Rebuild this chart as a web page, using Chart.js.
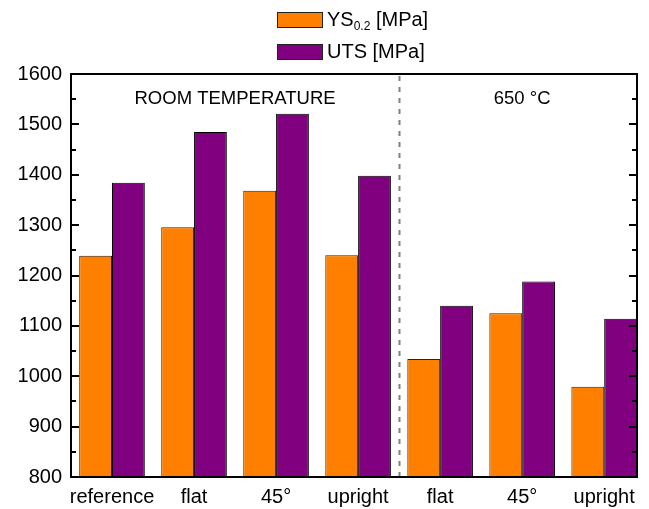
<!DOCTYPE html>
<html>
<head>
<meta charset="utf-8">
<script src="https://cdn.jsdelivr.net/npm/chart.js@4"></script>
<style>
  html, body { margin: 0; padding: 0; background: #fff; }
  #wrap { position: relative; width: 649px; height: 509px; }
  #legend { position: absolute; left: 277px; top: 12px; font-family: 'Liberation Sans', Arial, sans-serif; font-size: 20px; color: #000; }
  .row { position: absolute; left: 0; height: 16px; white-space: nowrap; }
  .box { position: absolute; left: 0; top: 0; width: 44px; height: 14px; border: 1px solid #222; }
  .lbl { position: absolute; left: 50px; top: -4px; line-height: 22px; }
  .lbl sub { font-size: 12px; vertical-align: -4px; line-height: 0; }
</style>
</head>
<body>
<div id="wrap">
  <canvas id="c"></canvas>
  <div id="legend">
    <div class="row" style="top:0"><div class="box" style="background:#FF8000"></div><div class="lbl">YS<sub>0.2</sub> [MPa]</div></div>
    <div class="row" style="top:32px"><div class="box" style="background:#800080"></div><div class="lbl">UTS [MPa]</div></div>
  </div>
</div>
<script>
const categories = ['reference', 'flat', '45°', 'upright', 'flat', '45°', 'upright'];
const ysValues  = [1239, 1296, 1368, 1240, 1034, 1125, 979];
const utsValues = [1384, 1485, 1521, 1398, 1140, 1188, 1114];
const seriesNames = ['YS0.2 [MPa]', 'UTS [MPa]'];
const yTickValues = [800, 900, 1000, 1100, 1200, 1300, 1400, 1500, 1600];
const regionLabels = ['ROOM TEMPERATURE', '650 °C'];
const regionCenters = [1.5, 5];
const regionDivider = 3.5;

const FONT = "'Liberation Sans', Arial, sans-serif";

const decor = {
  id: 'decor',
  afterDatasetsDraw(chart) {
    const {ctx, chartArea: a, scales: {x, y}} = chart;
    ctx.save();
    ctx.strokeStyle = '#808080';
    ctx.lineWidth = 2;
    ctx.setLineDash([5, 6]);
    const dx = Math.round(x.getPixelForValue(regionDivider)) + 0.5;
    ctx.beginPath(); ctx.moveTo(dx, a.top + 2); ctx.lineTo(dx, a.bottom); ctx.stroke();
    ctx.setLineDash([]);
    ctx.strokeStyle = '#000';
    ctx.lineWidth = 2;
    for (let v = 800; v <= 1600; v += 50) {
      const py = Math.round(y.getPixelForValue(v));
      const len = (v % 100 === 0) ? 8 : 5;
      ctx.beginPath();
      ctx.moveTo(a.left, py); ctx.lineTo(a.left + len, py);
      ctx.moveTo(a.right, py); ctx.lineTo(a.right - len, py);
      ctx.stroke();
    }
    ctx.lineWidth = 2;
    ctx.strokeRect(a.left, a.top, a.right - a.left, a.bottom - a.top);
    ctx.fillStyle = '#000';
    ctx.font = '18.5px ' + FONT;
    ctx.textAlign = 'center';
    ctx.textBaseline = 'middle';
    regionLabels.forEach((t, i) => {
      ctx.fillText(t, x.getPixelForValue(regionCenters[i]), y.getPixelForValue(1550));
    });
    ctx.restore();
  }
};

new Chart(document.getElementById('c'), {
  type: 'bar',
  data: {
    datasets: [
      { label: seriesNames[0], data: ysValues.map((v, i) => ({x: i, y: v})),
        backgroundColor: '#FF8000', borderColor: '#3a1e00', borderWidth: 1 },
      { label: seriesNames[1], data: utsValues.map((v, i) => ({x: i, y: v})),
        backgroundColor: '#800080', borderColor: '#000000', borderWidth: 1 }
    ]
  },
  options: {
    responsive: true,
    maintainAspectRatio: false,
    animation: false,
    layout: { padding: { left: 0, right: 12, top: 74, bottom: 0 } },
    datasets: { bar: { categoryPercentage: 0.8, barPercentage: 1.0 } },
    plugins: { legend: { display: false }, tooltip: { enabled: false } },
    scales: {
      x: {
        type: 'linear', offset: false, min: -0.5, max: 6.4,
        grid: { display: false, drawTicks: false }, border: { display: false },
        afterBuildTicks: (s) => { s.ticks = categories.map((c, i) => ({value: i})); },
        afterFit: (s) => { s.height = 32; },
        ticks: { autoSkip: false, maxRotation: 0, padding: 8, color: '#000',
                 font: { family: FONT, size: 20 },
                 callback: (v) => categories[v] }
      },
      y: {
        min: 800, max: 1600, beginAtZero: false,
        grid: { display: false, drawTicks: false }, border: { display: false },
        afterBuildTicks: (s) => { s.ticks = yTickValues.map(v => ({value: v})); },
        afterFit: (s) => { s.width = 71; },
        ticks: { autoSkip: false, padding: 9, color: '#000',
                 font: { family: FONT, size: 20 },
                 callback: (v) => String(v) }
      }
    }
  },
  plugins: [decor]
});
</script>
</body>
</html>
